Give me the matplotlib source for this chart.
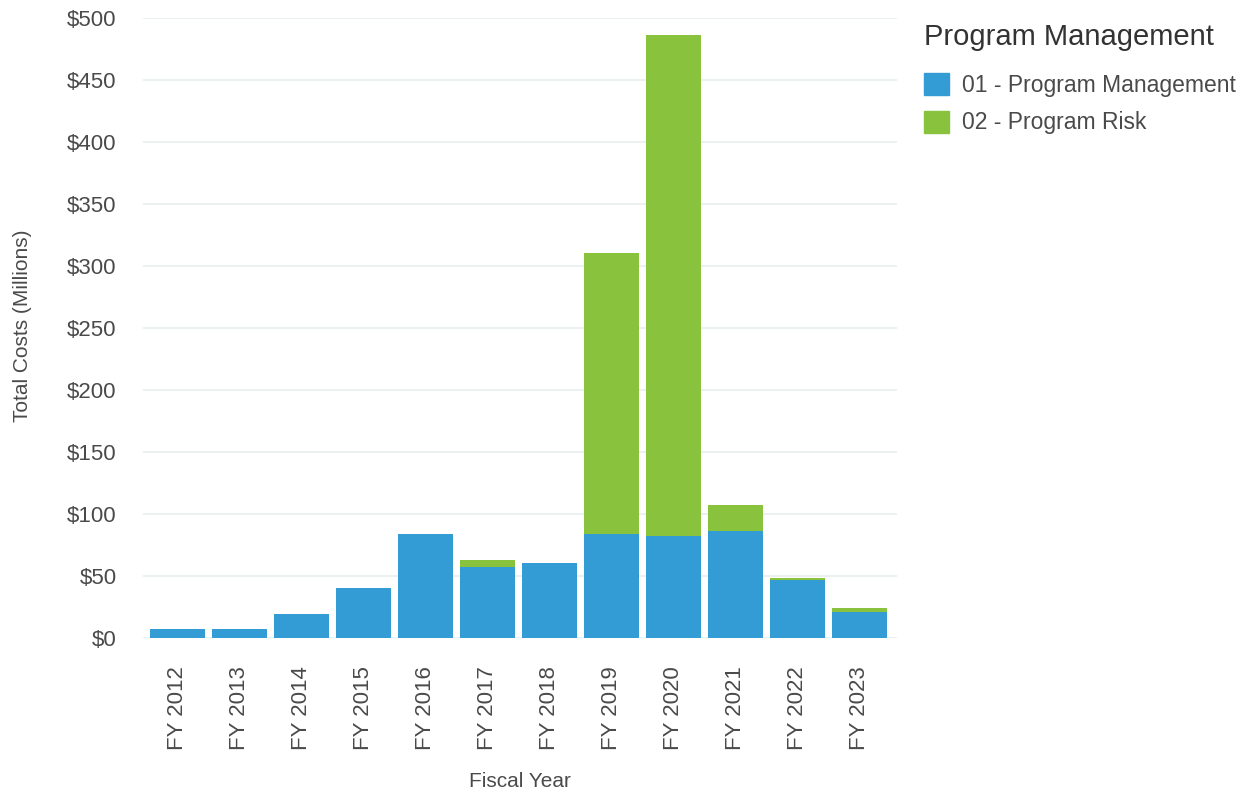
import matplotlib as mpl

mpl.use("Agg")
import matplotlib.pyplot as plt
from matplotlib.patches import Patch
import numpy as np

plt.rcParams["font.family"] = ["Liberation Sans", "DejaVu Sans"]

# values in $ millions
years = ["FY 2012", "FY 2013", "FY 2014", "FY 2015", "FY 2016", "FY 2017",
         "FY 2018", "FY 2019", "FY 2020", "FY 2021", "FY 2022", "FY 2023"]
program_mgmt = [7.6, 7.6, 19.4, 40.3, 83.9, 57.6, 60.2, 83.9, 82.6, 86.6, 47.1, 20.7]
program_risk = [0.0, 0.0, 0.0, 0.0, 0.0, 5.1, 0.0, 226.3, 404.0, 20.7, 1.0, 3.8]
yticks = [0, 50, 100, 150, 200, 250, 300, 350, 400, 450, 500]

BLUE = "#339cd5"
GREEN = "#89c33d"
TEXT = "#4a4a4a"

fig = plt.figure(figsize=(12.5, 7.94), dpi=100)
ax = fig.add_axes([0.1144, 0.1965, 0.6032, 0.7808])

x = np.arange(len(years))
ax.bar(x, program_mgmt, width=0.89, color=BLUE, linewidth=0, zorder=3)
ax.bar(x, program_risk, width=0.89, bottom=program_mgmt, color=GREEN, linewidth=0, zorder=3)

ax.set_xlim(-0.55, 11.61)
ax.set_ylim(0, 500)
ax.set_yticks(yticks)
ax.set_yticklabels([f"${v}" for v in yticks])
ax.set_xticks(x)
ax.set_xticklabels(years, rotation=90)
ax.tick_params(axis="y", length=0, pad=19, labelsize=16, labelcolor=TEXT)
ax.tick_params(axis="x", length=0, pad=20, labelsize=16, labelcolor=TEXT)
ax.grid(axis="y", color="#ebf0f0", linewidth=1.5, zorder=0)
for s in ax.spines.values():
    s.set_visible(False)

fig.text(0.018, 0.59, "Total Costs (Millions)", rotation=90, ha="center", va="center",
         fontsize=15, color=TEXT)
fig.text(0.416, 0.016, "Fiscal Year", ha="center", va="center", fontsize=15, color=TEXT)

# legend title drawn separately so the gap to the entries can be matched
fig.text(0.7392, 0.954, "Program Management", ha="left", va="center",
         fontsize=21, color="#333333")
handles = [Patch(color=BLUE), Patch(color=GREEN)]
leg = fig.legend(handles, ["01 - Program Management", "02 - Program Risk"],
                 loc="upper left", bbox_to_anchor=(0.7392, 0.908), frameon=False,
                 fontsize=16.5, handlelength=1.09, handleheight=1.09,
                 handletextpad=0.55, labelspacing=0.61, borderaxespad=0, borderpad=0)
for t in leg.get_texts():
    t.set_color(TEXT)

fig.savefig("out.png", dpi=100)
plt.close(fig)
